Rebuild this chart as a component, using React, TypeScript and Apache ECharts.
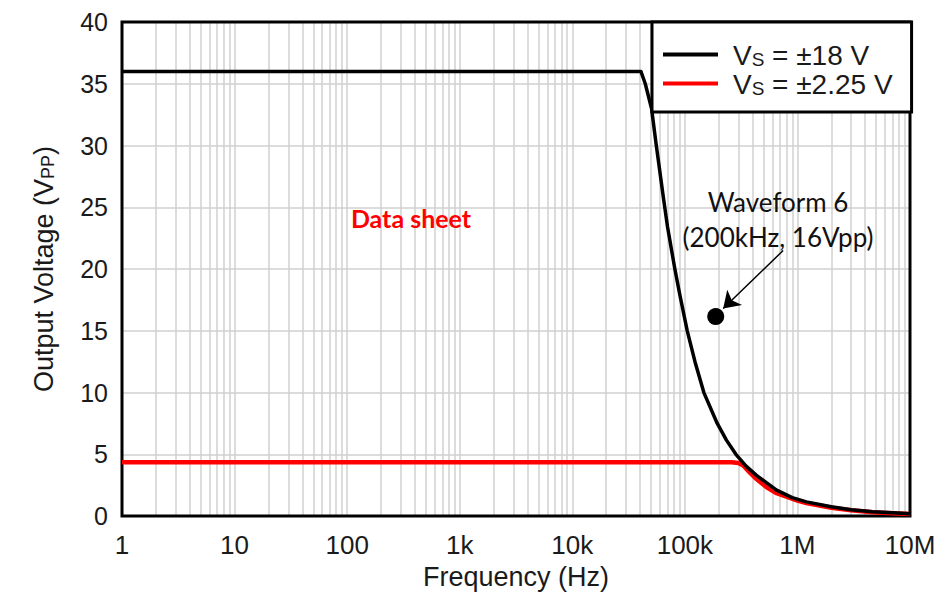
import React, { useEffect, useRef } from "react";
import * as echarts from "echarts";

// Frequency (Hz) and output voltage (Vpp)
const freq18 = [1, 40700, 44500, 50600, 55200, 64200, 70200, 81500, 90300, 105000, 123000, 147500, 194000, 234000, 284000, 350000, 433000, 653000, 900000, 1200000, 2000000, 3000000, 4660000, 7000000, 10000000];
const vpp18 = [36, 36, 35.0, 33.0, 30.3, 25.9, 23.4, 20.0, 17.9, 15.0, 12.5, 10.0, 7.5, 6.15, 5.0, 4.05, 3.3, 2.1, 1.5, 1.15, 0.75, 0.52, 0.36, 0.27, 0.2];

const freq225 = [1, 259000, 300000, 330000, 380000, 433000, 530000, 653000, 1000000, 1200000, 2000000, 3000000, 4660000, 7000000, 10000000];
const vpp225 = [4.35, 4.35, 4.3, 4.1, 3.5, 3.0, 2.35, 1.85, 1.25, 1.06, 0.68, 0.47, 0.32, 0.23, 0.17];

const waveformPoint = [188000, 16.15];
const arrowStart = [746000, 21.5];
const arrowEnd = [219000, 16.8];

const xTickValues = [1, 10, 100, 1000, 10000, 100000, 1000000, 10000000];
const xTickLabels = ["1", "10", "100", "1k", "10k", "100k", "1M", "10M"];
const minorMultipliers = [2, 3, 4, 5, 6, 7, 8, 9];

const seriesNames = ["s18", "s225"];

export default function App() {
  const ref = useRef<HTMLDivElement>(null);
  useEffect(() => {
    document.body.style.margin = "0";
    if (!ref.current) return;
    const chart = echarts.init(ref.current, undefined, { renderer: "svg" });
    const minorLines: any[] = [];
    for (let i = 0; i < xTickValues.length - 1; i++) {
      for (const m of minorMultipliers) minorLines.push({ xAxis: xTickValues[i] * m });
    }
    const axisFont = "'Liberation Sans', Arial, sans-serif";
    const gridColor = "#d0d0d0";
    const option: any = {
      animation: false,
      backgroundColor: "#ffffff",
      grid: {
        left: 122,
        top: 22,
        width: 788,
        height: 496,
        show: true,
        borderColor: "#000",
        borderWidth: 3,
        backgroundColor: "transparent",
        z: 3,
      },
      legend: {
        data: seriesNames,
        orient: "vertical",
        left: 652,
        top: 22,
        backgroundColor: "#fff",
        borderColor: "#000",
        borderWidth: 3,
        borderRadius: 0,
        padding: [19, 19, 14, 11],
        itemGap: 1,
        itemWidth: 55,
        itemHeight: 4,
        icon: "rect",
        z: 10,
        formatter: (name: string) =>
          name === "s18" ? "{a|V}{b|S}{a| = ±18 V}" : "{a|V}{b|S}{a| = ±2.25 V}",
        textStyle: {
          padding: [0, 0, 0, 10],
          rich: {
            a: { fontSize: 28, lineHeight: 29, fontFamily: axisFont, color: "#1a1a1a", verticalAlign: "bottom" },
            b: { fontSize: 19, lineHeight: 14, fontFamily: axisFont, color: "#1a1a1a", verticalAlign: "bottom" },
          },
        },
      },
      xAxis: {
        type: "log",
        logBase: 10,
        min: 1,
        max: 10000000,
        name: "Frequency (Hz)",
        nameLocation: "middle",
        nameGap: 44,
        nameTextStyle: { fontSize: 27, fontFamily: axisFont, color: "#1a1a1a" },
        axisLine: { show: false },
        axisTick: { show: false },
        axisLabel: {
          fontSize: 26,
          fontFamily: axisFont,
          color: "#1a1a1a",
          margin: 16,
          formatter: (v: number) => {
            const idx = xTickValues.findIndex((t) => Math.abs(t - v) / t < 1e-6);
            return idx >= 0 ? xTickLabels[idx] : "";
          },
        },
        splitLine: { show: true, lineStyle: { color: gridColor, width: 1.5 } },
      },
      yAxis: {
        type: "value",
        min: 0,
        max: 40,
        interval: 5,
        name: "Output Voltage (V{s|PP})",
        nameLocation: "middle",
        nameGap: 65,
        nameRotate: 90,
        nameTextStyle: {
          fontSize: 27,
          fontFamily: axisFont,
          color: "#1a1a1a",
          rich: {
            s: { fontSize: 18, fontFamily: axisFont, color: "#1a1a1a", verticalAlign: "bottom", lineHeight: 14 },
          },
        },
        axisLine: { show: false },
        axisTick: { show: false },
        axisLabel: { fontSize: 25, fontFamily: axisFont, color: "#1a1a1a", margin: 14 },
        splitLine: { show: true, lineStyle: { color: gridColor, width: 1.5 } },
      },
      series: [
        {
          name: "gridMinor",
          type: "line",
          data: [],
          silent: true,
          markLine: {
            silent: true,
            z: 1,
            symbol: ["none", "none"],
            label: { show: false },
            lineStyle: { color: gridColor, width: 1.5, type: "solid" },
            data: minorLines,
          },
        },
        {
          name: "s225",
          type: "line",
          data: freq225.map((f, i) => [f, vpp225[i]]),
          showSymbol: false,
          symbol: "none",
          smooth: false,
          lineStyle: { color: "#ff0000", width: 4.5, join: "round" },
          itemStyle: { color: "#ff0000" },
          z: 4,
        },
        {
          name: "s18",
          type: "line",
          data: freq18.map((f, i) => [f, vpp18[i]]),
          showSymbol: false,
          symbol: "none",
          smooth: false,
          lineStyle: { color: "#000000", width: 3.5, join: "round" },
          itemStyle: { color: "#000000" },
          z: 5,
        },
        {
          name: "waveform",
          type: "scatter",
          data: [waveformPoint],
          symbolSize: 17,
          itemStyle: { color: "#000", opacity: 1 },
          z: 6,
          markLine: {
            silent: true,
            z: 6,
            symbol: ["none", "arrow"],
            symbolSize: 16,
            label: { show: false },
            lineStyle: { color: "#000", width: 1.5, type: "solid", opacity: 1 },
            data: [[{ coord: arrowStart }, { coord: arrowEnd }]],
          },
        },
      ],
      graphic: [
        {
          type: "text",
          x: 411,
          y: 218,
          z: 20,
          style: {
            text: "Data sheet",
            fill: "#ff0000",
            font: "bold 25px Lato, 'Open Sans', sans-serif",
            textAlign: "center",
            textVerticalAlign: "middle",
          },
        },
        {
          type: "text",
          x: 778,
          y: 202,
          z: 20,
          style: {
            text: "Waveform 6",
            fill: "#111",
            font: "26px Lato, 'Open Sans', sans-serif",
            textAlign: "center",
            textVerticalAlign: "middle",
          },
        },
        {
          type: "text",
          x: 778,
          y: 237,
          z: 20,
          style: {
            text: "(200kHz, 16Vpp)",
            fill: "#111",
            font: "26px Lato, 'Open Sans', sans-serif",
            textAlign: "center",
            textVerticalAlign: "middle",
          },
        },
      ],
    };
    chart.setOption(option);
    return () => chart.dispose();
  }, []);
  return <div ref={ref} style={{ width: 952, height: 595 }} />;
}
